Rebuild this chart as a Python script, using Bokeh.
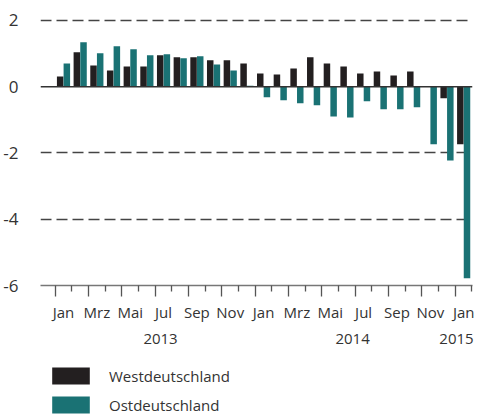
from bokeh.plotting import figure
from bokeh.models import (Range1d, FixedTicker, LinearAxis, Span, Legend,
                          LegendItem, ColumnDataSource)
from bokeh.layouts import column
from bokeh.transform import dodge
from bokeh.embed import file_html
from bokeh.resources import INLINE

months = ["Jan", "Feb", "Mrz", "Apr", "Mai", "Jun", "Jul", "Aug", "Sep",
          "Okt", "Nov", "Dez"] * 2 + ["Jan"]
years = ["2013", "2014", "2015"]
series = ["Westdeutschland", "Ostdeutschland"]
west = [0.31, 1.04, 0.64, 0.49, 0.61, 0.61, 0.95, 0.89, 0.89, 0.80, 0.80,
        0.70, 0.40, 0.37, 0.55, 0.89, 0.70, 0.61, 0.40, 0.46, 0.34, 0.46,
        0.0, -0.35, -1.74]
ost = [0.70, 1.34, 1.01, 1.22, 1.13, 0.95, 0.98, 0.86, 0.92, 0.67, 0.49,
       0.03, -0.32, -0.41, -0.50, -0.56, -0.90, -0.93, -0.44, -0.68, -0.68,
       -0.62, -1.74, -2.23, -5.78]
y_ticks = [-6, -4, -2, 0, 2]

FONT = "Open Sans"
TXT = "#333333"
BLACK = "#231f20"
TEAL = "#1a7274"

idx = list(range(len(months)))
src = ColumnDataSource(dict(x=idx, west=west, ost=ost))

p = figure(frame_width=432, frame_height=275,
           x_range=Range1d(-0.88, 25.03), y_range=Range1d(-6, 2.3),
           output_backend="svg", toolbar_location=None, x_axis_location=None,
           min_border_left=38, min_border_top=10, min_border_right=4,
           min_border_bottom=0)
p.outline_line_color = None
p.background_fill_color = None
p.border_fill_color = None
p.xgrid.visible = False

# y axis
p.yaxis.ticker = FixedTicker(ticks=y_ticks)
p.yaxis.major_label_overrides = {t: str(t) for t in y_ticks}
p.yaxis.axis_line_color = None
p.yaxis.major_tick_line_color = None
p.yaxis.minor_tick_line_color = None
p.yaxis.major_label_standoff = 16
p.yaxis.major_label_text_font = FONT
p.yaxis.major_label_text_font_size = "17px"
p.yaxis.major_label_text_color = TXT

p.ygrid.ticker = FixedTicker(ticks=[t for t in y_ticks if t not in (0, -6)])
p.ygrid.grid_line_color = "#444444"
p.ygrid.grid_line_width = 1.4
p.ygrid.grid_line_dash = "11 5"

r1 = p.vbar(x=dodge("x", 0.3, range=p.x_range), top="west", width=0.39,
            source=src, fill_color=BLACK, line_color=None)
r2 = p.vbar(x=dodge("x", 0.7, range=p.x_range), top="ost", width=0.39,
            source=src, fill_color=TEAL, line_color=None)

p.add_layout(Span(location=0, dimension="width", line_color="#333333",
                  line_width=1.6))

n = len(months)
# tick axis
ax_t = LinearAxis(ticker=FixedTicker(ticks=list(range(0, n + 1, 2)),
                                     minor_ticks=list(range(1, n + 1, 2))))
ax_t.axis_line_color = "#777777"
ax_t.axis_line_width = 1.5
ax_t.major_tick_out = 11
ax_t.major_tick_in = 0
ax_t.minor_tick_out = 6
ax_t.minor_tick_in = 0
ax_t.major_tick_line_color = "#555555"
ax_t.minor_tick_line_color = "#555555"
ax_t.major_tick_line_width = 1.3
ax_t.minor_tick_line_width = 1.3
ax_t.major_label_text_font_size = "1px"
ax_t.major_label_text_color = None
ax_t.major_label_standoff = 0
p.add_layout(ax_t, "below")

# month label axis
mticks = [i + 0.5 for i in range(0, n, 2)]
ax_m = LinearAxis(ticker=FixedTicker(ticks=mticks),
                  major_label_overrides={t: months[int(t)] for t in mticks})
ax_m.axis_line_color = None
ax_m.major_tick_line_color = None
ax_m.minor_tick_line_color = None
ax_m.major_tick_out = 0
ax_m.major_tick_in = 0
ax_m.major_label_standoff = 5
ax_m.major_label_text_font = FONT
ax_m.major_label_text_font_size = "15px"
ax_m.major_label_text_color = TXT
p.add_layout(ax_m, "below")

# year label axis
yticks = [6.32, 17.84, 24.07]
ax_y = LinearAxis(ticker=FixedTicker(ticks=yticks),
                  major_label_overrides={t: y for t, y in zip(yticks, years)})
ax_y.axis_line_color = None
ax_y.major_tick_line_color = None
ax_y.minor_tick_line_color = None
ax_y.major_tick_out = 0
ax_y.major_tick_in = 0
ax_y.major_label_standoff = 9
ax_y.major_label_text_font = FONT
ax_y.major_label_text_font_size = "15px"
ax_y.major_label_text_color = TXT
p.add_layout(ax_y, "below")

# legend in its own small figure below the chart (its bars lie out of view)
p2 = figure(width=474, height=69, x_range=Range1d(1000, 1001),
            y_range=Range1d(1000, 1001), output_backend="svg",
            toolbar_location=None, min_border=0,
            x_axis_location=None, y_axis_location=None)
p2.grid.visible = False
p2.outline_line_color = None
p2.background_fill_color = None
p2.border_fill_color = None
l1 = p2.vbar(x="x", top="west", width=0.39, source=src,
             fill_color=BLACK, line_color=None)
l2 = p2.vbar(x="x", top="ost", width=0.39, source=src,
             fill_color=TEAL, line_color=None)

legend = Legend(items=[LegendItem(label=series[0], renderers=[l1]),
                       LegendItem(label=series[1], renderers=[l2])],
                location=(7, 0), orientation="vertical")
legend.glyph_width = 47
legend.glyph_height = 21
legend.spacing = 8
legend.label_standoff = 15
legend.label_text_font = FONT
legend.label_text_font_size = "15px"
legend.label_text_color = TXT
legend.label_height = 21
legend.border_line_color = None
legend.background_fill_color = None
legend.padding = 0
legend.margin = 0
p2.add_layout(legend, "center")

open("out.html", "w").write(file_html(column(p, p2, spacing=0), INLINE))
